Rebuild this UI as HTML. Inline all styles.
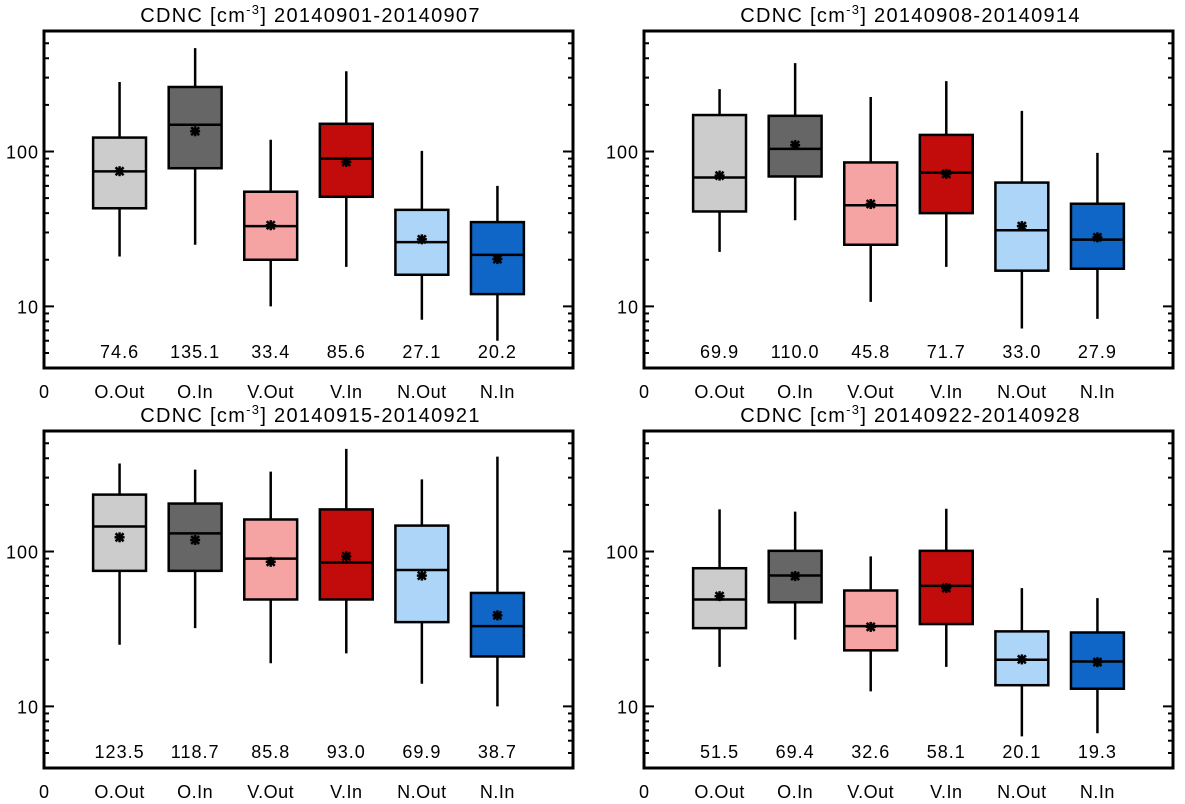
<!DOCTYPE html>
<html><head><meta charset="utf-8"><style>
body{margin:0;background:#fff}
svg{display:block;font-family:"Liberation Sans",sans-serif}
</style></head><body>
<svg id="c" width="1185" height="804" xmlns="http://www.w3.org/2000/svg"></svg>
<script>
const categories=["O.Out","O.In","V.Out","V.In","N.Out","N.In"];
const titles=["20140901-20140907","20140908-20140914","20140915-20140921","20140922-20140928"];
const colors=["#cccccc","#666666","#f6a3a3","#c20c0c","#acd5f8","#0f66c6"];
const wLow=[[21,25,10,18,8.2,6],[22.5,36,10.7,18,7.2,8.3],[25,32,19,22,14,10],[18,27,12.5,18,6.4,6.7]];
const q1=[[43,78,20,51,16,12],[41,69,25,40,17,17.5],[75,75,49,49,35,21],[32,47,23,34,13.7,13]];
const med=[[74.4,149,33,90,26,21.5],[68,104,45,73,31,27],[145,131,90,85,76,33],[49,70,33,60,20,19.5]];
const q3=[[123,261,55,151,42,35],[172,170,85,128,63,46],[233,204,161,187,147,54],[78,101,56,101,30.5,30]];
const wHigh=[[281,465,119,330,101,60],[253,372,225,285,183,98],[370,338,328,460,292,410],[187,181,93,189,58,50]];
const means=[[74.6,135.1,33.4,85.6,27.1,20.2],[69.9,110.0,45.8,71.7,33.0,27.9],[123.5,118.7,85.8,93.0,69.9,38.7],[51.5,69.4,32.6,58.1,20.1,19.3]];
const yMin=4,yMax=600;
const svg=document.getElementById('c');
const NS="http://www.w3.org/2000/svg";
function mk(t,a,p){const e=document.createElementNS(NS,t);for(const k in a)e.setAttribute(k,a[k]);(p||svg).appendChild(e);return e;}
const panels=[[44,573,31,368],[644,1173,31,368],[44,573,431,768],[644,1173,431,768]];
panels.forEach((P,pi)=>{
  const [x0,x1,y0,y1]=P;
  const g=mk('g',{});
  
  
  const X=v=>x0+(x1-x0)*v/7;
  const Y=v=>y1-(y1-y0)*(Math.log10(v)-Math.log10(yMin))/(Math.log10(yMax)-Math.log10(yMin));
  const t=mk('text',{x:(x0+x1)/2+2,y:y0-9,'text-anchor':'middle','font-size':20,'letter-spacing':1.3},g);
  t.innerHTML='CDNC [cm<tspan dy="-8" font-size="13">-3</tspan><tspan dy="8">] '+titles[pi]+'</tspan>';
  
  
  for(let d=1;d<=100;d*=10){for(let m=1;m<10;m++){const v=d*m;if(v<yMin||v>yMax)continue;const y=Y(v);const L=m==1?10:5;
    mk('line',{x1:x0,x2:x0+L,y1:y,y2:y,stroke:'#000','stroke-width':2},g);
    mk('line',{x1:x1,x2:x1-L,y1:y,y2:y,stroke:'#000','stroke-width':2},g);
    if(m==1&&v>=10){const tl=mk('text',{x:x0-5,y:y+7,'text-anchor':'end','font-size':18,'letter-spacing':1},g);tl.textContent=v;
      
      }
  }}
  const z=mk('text',{x:x0,y:y1+30,'text-anchor':'middle','font-size':18},g);z.textContent='0';
  
  
  categories.forEach((c,i)=>{
    const cx=X(i+1),hw=(x1-x0)/7*0.35;
    const b=mk('g',{},g);
    
    
    mk('line',{x1:cx,x2:cx,y1:Y(wHigh[pi][i]),y2:Y(wLow[pi][i]),stroke:'#000','stroke-width':2.5},b);
    mk('rect',{x:cx-hw,y:Y(q3[pi][i]),width:2*hw,height:Y(q1[pi][i])-Y(q3[pi][i]),fill:colors[i],stroke:'#000','stroke-width':2.5},b);
    mk('line',{x1:cx-hw,x2:cx+hw,y1:Y(med[pi][i]),y2:Y(med[pi][i]),stroke:'#000','stroke-width':2.5},b);
    const my=Y(means[pi][i]),s=5;
    [[0,1],[1,0],[0.8,0.8],[0.8,-0.8]].forEach(([a,d])=>mk('line',{x1:cx-s*a,x2:cx+s*a,y1:my-s*d,y2:my+s*d,stroke:'#000','stroke-width':2.5},b));
    const vt=mk('text',{x:cx,y:y1-10,'text-anchor':'middle','font-size':18,'letter-spacing':1},g);vt.textContent=means[pi][i].toFixed(1);
    
    
    const ct=mk('text',{x:cx,y:y1+30,'text-anchor':'middle','font-size':18,'letter-spacing':0.5},g);ct.textContent=c;
    
    
  });
  const f=mk('rect',{x:x0,y:y0,width:x1-x0,height:y1-y0,fill:'none',stroke:'#000','stroke-width':3},g);
  
  
});
</script>
</body></html>
